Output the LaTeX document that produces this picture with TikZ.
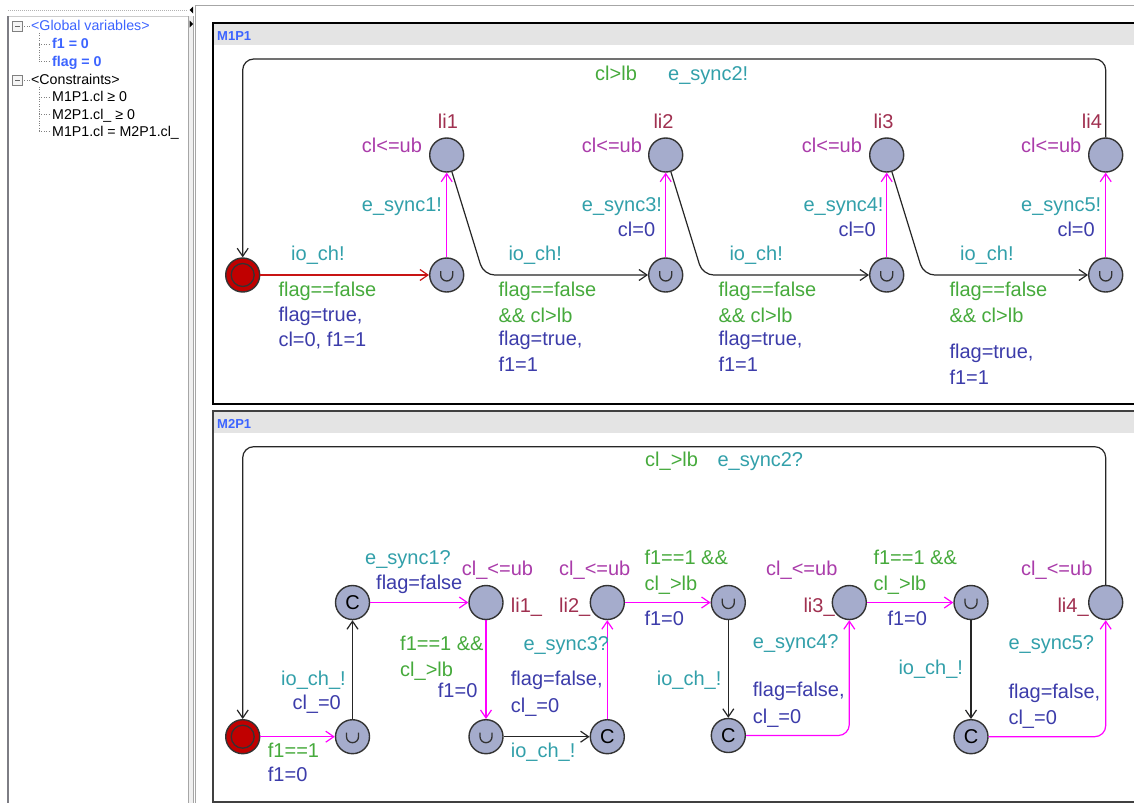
\documentclass[tikz,border=0pt]{standalone}
\usepackage{fontspec}
\setmainfont{Liberation Sans}
\usetikzlibrary{positioning}
\usetikzlibrary{arrows.meta}

\definecolor{locfill}{RGB}{165,172,204}
\definecolor{initred}{RGB}{192,0,0}
\definecolor{namecol}{RGB}{160,48,80}
\definecolor{invcol}{RGB}{170,60,170}
\definecolor{grdcol}{RGB}{70,170,60}
\definecolor{syncol}{RGB}{50,160,170}
\definecolor{updcol}{RGB}{60,60,170}
\definecolor{magedge}{RGB}{255,0,255}
\definecolor{rededge}{RGB}{200,20,20}
\definecolor{titleblue}{RGB}{60,100,255}
\definecolor{headgray}{RGB}{228,228,228}
\definecolor{framegray}{RGB}{125,125,132}

\begin{document}
\begin{tikzpicture}[
    x=1pt, y=-1pt,
    every node/.style={inner sep=0pt, font=\fontsize{20}{25}\selectfont},
    lab/.style={anchor=base west},
    nm/.style={lab, text=namecol},
    inv/.style={lab, text=invcol},
    grd/.style={lab, text=grdcol},
    syn/.style={lab, text=syncol},
    upd/.style={lab, text=updcol},
    treetxt/.style={anchor=base west, font=\fontsize{14.2}{16}\selectfont},
    loc/.style={circle, draw=black!80, line width=1.4pt, fill=locfill, minimum size=34pt},
    initloc/.style={loc, fill=initred,
      path picture={\draw[line width=1.3pt, black!80] (path picture bounding box.center) circle (11.5pt);}},
    urgloc/.style={loc,
      path picture={\draw[line width=1.3pt, black!80] ([shift={(-6pt,4pt)}]path picture bounding box.center)
        -- ++(0pt,-4pt) arc[start angle=180, end angle=360, radius=6pt] -- ++(0pt,4pt);}},
    comloc/.style={loc},
    trans/.style={line width=1.2pt, draw=black!85, rounded corners=11pt,
      -{Straight Barb[length=8pt, width=11pt]}},
    synctrans/.style={trans, draw=magedge},
    firsttrans/.style={trans, draw=rededge}
  ]
  \useasboundingbox (0,0) rectangle (1134,803);
  \fill[white] (0,0) rectangle (1134,803);

  % declarations tree
  \draw[gray!60, densely dotted, line width=1pt] (8,10) -- (187,10);
  \fill[gray!12] (188,16) rectangle (193.5,803);
  \draw[gray!40] (8,16) -- (188,16);
  \draw[framegray, line width=2pt] (8,16) -- (8,803);
  \draw[gray!70, line width=1pt] (188,16) -- (188,803);
  \draw[gray!70, line width=1pt] (193.5,16) -- (193.5,803);
  \fill (189.5,10) -- (193,6.5) -- (193,13.5) -- cycle;
  \fill (193,24) -- (189.5,20.5) -- (189.5,27.5) -- cycle;
  \draw[gray!70, line width=1pt] (195,803) -- (195,5) -- (1134,5);

  \draw[gray, fill=gray!8] (12.5,21.5) rectangle (22,31);
  \draw[gray!80!black] (15,26.3) -- (19.5,26.3);
  \draw[gray, fill=gray!8] (12.5,75.5) rectangle (22,85);
  \draw[gray!80!black] (15,80.3) -- (19.5,80.3);
  \draw[gray, dotted] (22,26) -- (30,26) (39,33) -- (39,61) (39,44) -- (50,44) (39,61) -- (50,61);
  \draw[gray, dotted] (22,80) -- (30,80) (39,87) -- (39,131) (39,97) -- (50,97)
    (39,114) -- (50,114) (39,131) -- (50,131);

  \node[treetxt, text=titleblue] (globals) at (31,30) {<Global variables>};
  \node[treetxt, text=titleblue, font=\fontsize{14.2}{16}\selectfont\bfseries] (varf1) at (52,48) {f1 = 0};
  \node[treetxt, text=titleblue, font=\fontsize{14.2}{16}\selectfont\bfseries] (varflag) at (52,66) {flag = 0};
  \node[treetxt] (constraints) at (31,84) {<Constraints>};
  \node[treetxt] (cons1) at (52,101.5) {M1P1.cl ≥ 0};
  \node[treetxt] (cons2) at (52,119) {M2P1.cl\_ ≥ 0};
  \node[treetxt] (cons3) at (52,136.5) {M1P1.cl = M2P1.cl\_};

  % template M1P1
  \fill[headgray] (214,24) rectangle (1134,45);
  \draw[line width=1.5pt] (1134,23) -| (213,404) -- (1134,404);
  \node[anchor=base west, text=titleblue, font=\fontsize{13}{13}\selectfont\bfseries] (title1) at (217,40) {M1P1};

  \node[initloc] (init) at (242.7,275) {};
  \node[urgloc] (u1) at (446.7,275) {};
  \node[loc] (li1) at (446.7,155) {};
  \node[urgloc] (u2) at (665.7,275) {};
  \node[loc] (li2) at (665.7,155) {};
  \node[urgloc] (u3) at (886.7,275) {};
  \node[loc] (li3) at (886.7,155) {};
  \node[urgloc] (u4) at (1105.7,275) {};
  \node[loc] (li4) at (1105.7,155) {};
  \coordinate (top1) at (242.7,59);

  \draw[firsttrans] (init) -- (u1);
  \draw[synctrans] (u1) -- (li1);
  \draw[trans] (li1) -- ([xshift=37pt]li1 |- u2) -- (u2);
  \draw[synctrans] (u2) -- (li2);
  \draw[trans] (li2) -- ([xshift=37pt]li2 |- u3) -- (u3);
  \draw[synctrans] (u3) -- (li3);
  \draw[trans] (li3) -- ([xshift=37pt]li3 |- u4) -- (u4);
  \draw[synctrans] (u4) -- (li4);
  \draw[trans] (li4) |- (top1) -- (init);

  \node[nm] (n1) at (437.7,128) {li1};
  \node[inv] (i1) at (361.7,152.7) {cl<=ub};
  \node[nm] (n2) at (653.3,128) {li2};
  \node[inv] (i2) at (581.7,152.7) {cl<=ub};
  \node[nm] (n3) at (873.3,128) {li3};
  \node[inv] (i3) at (801.7,152.7) {cl<=ub};
  \node[nm] (n4) at (1081.7,128) {li4};
  \node[inv] (i4) at (1021,152.7) {cl<=ub};

  \node[syn] (s1) at (291,260.7) {io\_ch!};
  \node[grd] (g1) at (278.3,296.7) {flag==false};
  \node[upd] (a1) at (278.3,321) {flag=true,};
  \node[upd] (b1) at (278.3,346.7) {cl=0, f1=1};
  \node[syn] (e1) at (361.7,211.7) {e\_sync1!};

  \node[syn] (s2) at (508.3,260.7) {io\_ch!};
  \node[grd] (g2) at (498.3,296.7) {flag==false};
  \node[grd] (h2) at (498.3,322.7) {\&\& cl>lb};
  \node[upd] (a2) at (498.3,345.7) {flag=true,};
  \node[upd] (b2) at (498.3,371) {f1=1};
  \node[syn] (e3) at (581.7,211.7) {e\_sync3!};
  \node[upd] (r3) at (617.7,236) {cl=0};

  \node[syn] (s3) at (729.3,260.7) {io\_ch!};
  \node[grd] (g3) at (718.3,296.7) {flag==false};
  \node[grd] (h3) at (718.3,322.7) {\&\& cl>lb};
  \node[upd] (a3) at (718.3,345.7) {flag=true,};
  \node[upd] (b3) at (718.3,371) {f1=1};
  \node[syn] (e4) at (803.3,211.7) {e\_sync4!};
  \node[upd] (r4) at (838.3,236) {cl=0};

  \node[syn] (s4) at (960,260.7) {io\_ch!};
  \node[grd] (g4) at (949.3,296.7) {flag==false};
  \node[grd] (h4) at (949.3,322.7) {\&\& cl>lb};
  \node[upd] (a4) at (949.3,358.3) {flag=true,};
  \node[upd] (b4) at (949.3,384.3) {f1=1};
  \node[syn] (e5) at (1021,211.7) {e\_sync5!};
  \node[upd] (r5) at (1057.3,236) {cl=0};

  \node[grd] (g5) at (595,80) {cl>lb};
  \node[syn] (e2) at (668,80) {e\_sync2!};

  % template M2P1
  \fill[headgray] (214,412) rectangle (1134,433);
  \draw[black!75, line width=2pt] (1134,411) -| (213,802) -- (1134,802);
  \node[anchor=base west, text=titleblue, font=\fontsize{13}{13}\selectfont\bfseries] (title2) at (217,428) {M2P1};

  \node[initloc] (m2init) at (242.7,736.7) {};
  \node[urgloc] (m2u1) at (352.5,736.7) {};
  \node[comloc] (m2c1) at (352.5,602.5) {C};
  \node[loc] (lj1) at (486,602.5) {};
  \node[urgloc] (m2u2) at (486,736.7) {};
  \node[comloc] (m2c2) at (607.3,736.7) {C};
  \node[loc] (lj2) at (607.3,602.5) {};
  \node[urgloc] (m2u3) at (728.3,602.5) {};
  \node[comloc] (m2c3) at (728.3,735.5) {C};
  \node[loc] (lj3) at (849.3,602.5) {};
  \node[urgloc] (m2u4) at (971,602.5) {};
  \node[comloc] (m2c4) at (971,736.7) {C};
  \node[loc] (lj4) at (1105.7,602.5) {};
  \coordinate (top2) at (242.7,446.7);

  \draw[synctrans] (m2init) -- (m2u1);
  \draw[trans] (m2u1) -- (m2c1);
  \draw[synctrans] (m2c1) -- (lj1);
  \draw[synctrans] (lj1) -- (m2u2);
  \draw[trans] (m2u2) -- (m2c2);
  \draw[synctrans] (m2c2) -- (lj2);
  \draw[synctrans] (lj2) -- (m2u3);
  \draw[trans] (m2u3) -- (m2c3);
  \draw[synctrans] (m2c3) -| (lj3);
  \draw[synctrans] (lj3) -- (m2u4);
  \draw[trans] (m2u4) -- (m2c4);
  \draw[synctrans] (m2c4) -| (lj4);
  \draw[trans] (lj4) |- (top2) -- (m2init);

  \node[inv] (j1) at (461.7,575.7) {cl\_<=ub};
  \node[nm] (k1) at (510.7,612.7) {li1\_};
  \node[inv] (j2) at (559,575.7) {cl\_<=ub};
  \node[nm] (k2) at (559,612.7) {li2\_};
  \node[inv] (j3) at (766,575.7) {cl\_<=ub};
  \node[nm] (k3) at (803.3,612.7) {li3\_};
  \node[inv] (j4) at (1021,575.7) {cl\_<=ub};
  \node[nm] (k4) at (1057.3,612.7) {li4\_};

  \node[grd] (p1) at (267.7,757.7) {f1==1};
  \node[upd] (q1) at (267.7,781.7) {f1=0};
  \node[syn] (o1) at (281,685.7) {io\_ch\_!};
  \node[upd] (z1) at (292.3,709.3) {cl\_=0};
  \node[syn] (f1) at (365,564) {e\_sync1?};
  \node[upd] (w1) at (376,589) {flag=false};

  \node[grd] (p2) at (400,650) {f1==1 \&\&};
  \node[grd] (p2b) at (400,676.7) {cl\_>lb};
  \node[upd] (q2) at (437.7,697.7) {f1=0};
  \node[syn] (o2) at (510.7,757.7) {io\_ch\_!};
  \node[syn] (f3) at (523.3,650) {e\_sync3?};
  \node[upd] (w3) at (510.7,685.7) {flag=false,};
  \node[upd] (z3) at (510.7,712.7) {cl\_=0};

  \node[grd] (p3) at (644.3,564) {f1==1 \&\&};
  \node[grd] (p3b) at (644.3,590.7) {cl\_>lb};
  \node[upd] (q3) at (644.3,625) {f1=0};
  \node[syn] (o3) at (656.7,685.7) {io\_ch\_!};
  \node[syn] (f4) at (752.7,648.3) {e\_sync4?};
  \node[upd] (w4) at (752.7,696.7) {flag=false,};
  \node[upd] (z4) at (752.7,723.3) {cl\_=0};

  \node[grd] (p4) at (873.3,564) {f1==1 \&\&};
  \node[grd] (p4b) at (873.3,590.7) {cl\_>lb};
  \node[upd] (q4) at (887.3,625) {f1=0};
  \node[syn] (o4) at (898.3,674) {io\_ch\_!};
  \node[syn] (f5) at (1008.3,649.3) {e\_sync5?};
  \node[upd] (w5) at (1008.3,698.3) {flag=false,};
  \node[upd] (z5) at (1008.3,724) {cl\_=0};

  \node[grd] (p5) at (645,466.7) {cl\_>lb};
  \node[syn] (f2) at (717.3,466.7) {e\_sync2?};
\end{tikzpicture}
\end{document}
